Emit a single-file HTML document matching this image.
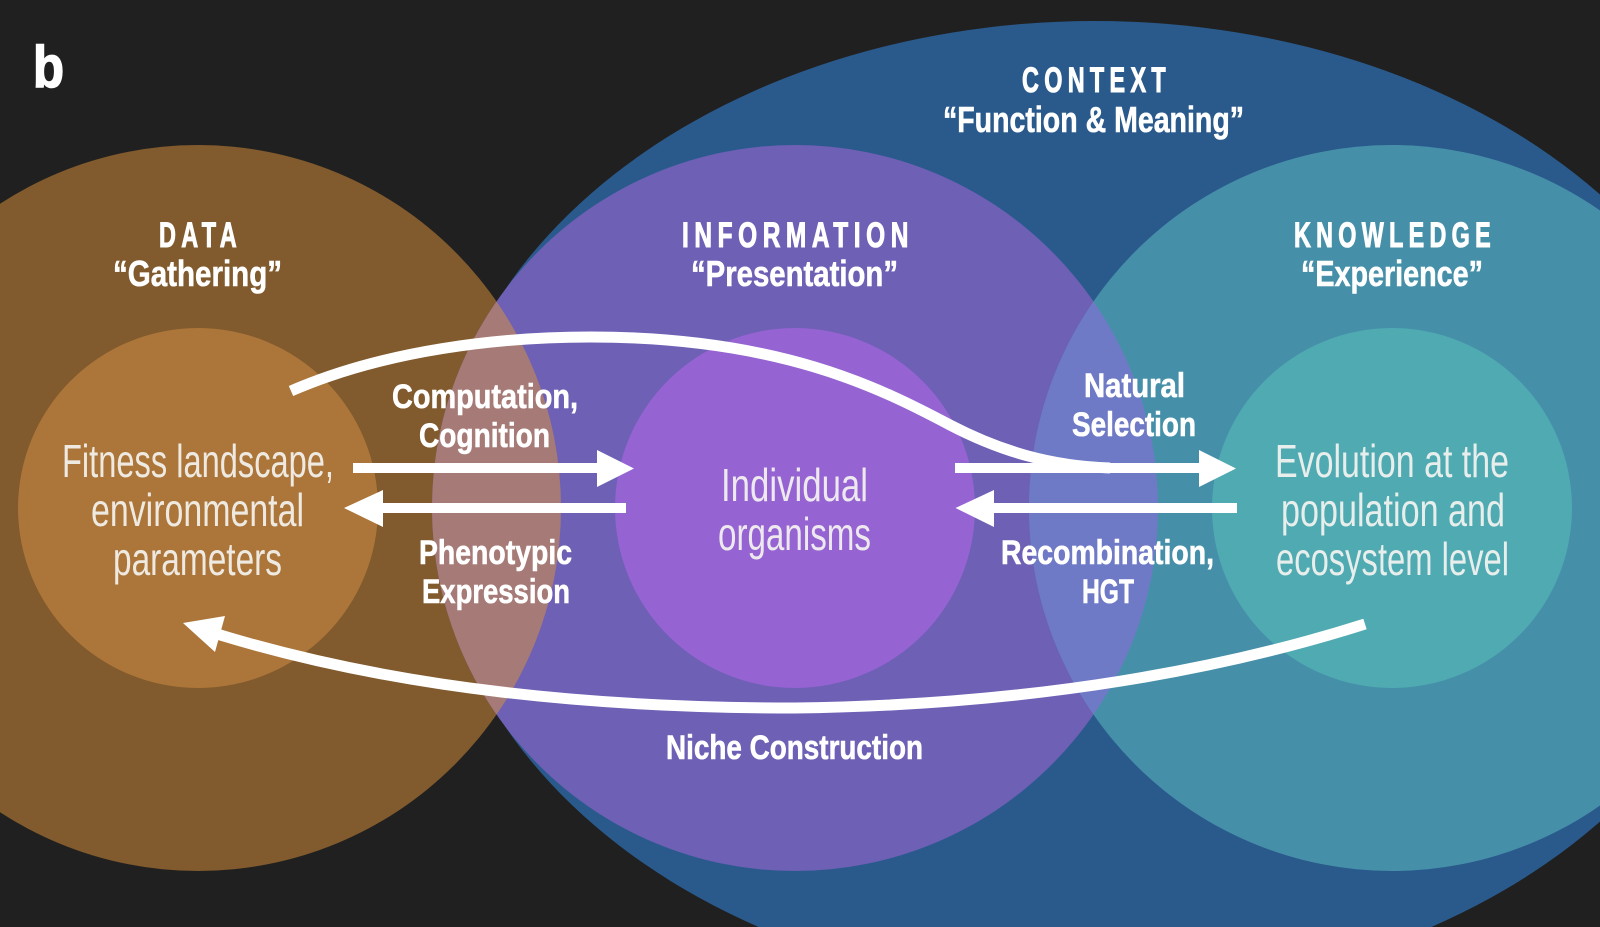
<!DOCTYPE html>
<html><head><meta charset="utf-8"><style>
html,body{margin:0;padding:0;background:#202020;width:1600px;height:927px;overflow:hidden}
svg{display:block;overflow:hidden}
text{font-family:"Liberation Sans",sans-serif;fill:#fff;text-anchor:start}
.b{font-weight:700;stroke:#fff;stroke-width:1.6px}
.h{font-size:35px;font-weight:700;letter-spacing:8px;stroke:#fff;stroke-width:1.1px}
.q{font-size:36px;font-weight:700;stroke:#fff;stroke-width:.6px}
.l{font-size:34px;font-weight:700;stroke:#fff;stroke-width:.6px}
.t{font-size:46px;fill:#f4f4f0;fill-opacity:.92}
</style></head><body>
<svg width="1600" height="927" viewBox="0 0 1600 927" xmlns="http://www.w3.org/2000/svg">
<defs>
<clipPath id="ci"><circle cx="795" cy="508" r="363"/></clipPath>
</defs>
<rect width="1600" height="927" fill="#202020"/>
<path d="M758.6,927 A660,487 0 1 1 1431.4,927 Z" fill="#2a5a8c"/>
<circle cx="198" cy="508" r="363" fill="#815a2d"/>
<circle cx="795" cy="508" r="363" fill="#6d60b5"/>
<circle cx="1392" cy="508" r="363" fill="#4590a8"/>
<g clip-path="url(#ci)">
<circle cx="198" cy="508" r="363" fill="#a67a76"/>
<circle cx="1392" cy="508" r="363" fill="#6f7ac6"/>
</g>
<circle cx="198" cy="508" r="180" fill="#ac763a"/>
<circle cx="795" cy="508" r="180" fill="#9663d2"/>
<circle cx="1392" cy="508" r="180" fill="#4faab2"/>

<g fill="none" stroke="#fff" stroke-width="11">
<path d="M291,391 C385,350 500,337 590,337 C780,337 880,388 950,425 C1000,451 1050,466 1110,468"/>
<path d="M1365,624 C1230,667 1040,705 795,708 C600,708 400,690 217,634"/>
</g>
<g fill="#fff">
<rect x="353" y="463" width="246" height="10"/>
<polygon points="597,450 634,468.5 597,487"/>
<rect x="382" y="503" width="244" height="10"/>
<polygon points="383,490 344,508 383,527"/>
<rect x="955" y="463" width="246" height="10"/>
<polygon points="1199,450 1236,468.5 1199,487"/>
<rect x="993" y="503" width="244" height="10"/>
<polygon points="994,490 955.5,508 994,527"/>
<polygon points="183,623 225,616 215,652"/>
</g>

<text class="b" x="33" y="87" font-size="58" textLength="31" lengthAdjust="spacingAndGlyphs">b</text>

<text class="h" x="159" y="247" textLength="83" lengthAdjust="spacingAndGlyphs">DATA</text>
<text class="q" x="113" y="286" textLength="169" lengthAdjust="spacingAndGlyphs">“Gathering”</text>
<text class="h" x="682" y="247" textLength="232" lengthAdjust="spacingAndGlyphs">INFORMATION</text>
<text class="q" x="691" y="286" textLength="207" lengthAdjust="spacingAndGlyphs">“Presentation”</text>
<text class="h" x="1294" y="247" textLength="202" lengthAdjust="spacingAndGlyphs">KNOWLEDGE</text>
<text class="q" x="1301" y="286" textLength="182" lengthAdjust="spacingAndGlyphs">“Experience”</text>
<text class="h" x="1022" y="92" textLength="149" lengthAdjust="spacingAndGlyphs">CONTEXT</text>
<text class="q" x="943" y="132" textLength="301" lengthAdjust="spacingAndGlyphs">“Function &amp; Meaning”</text>

<text class="l" x="392" y="408" textLength="186" lengthAdjust="spacingAndGlyphs">Computation,</text>
<text class="l" x="419" y="447" textLength="131" lengthAdjust="spacingAndGlyphs">Cognition</text>
<text class="l" x="419" y="564" textLength="153" lengthAdjust="spacingAndGlyphs">Phenotypic</text>
<text class="l" x="422" y="603" textLength="148" lengthAdjust="spacingAndGlyphs">Expression</text>
<text class="l" x="666" y="759" textLength="257" lengthAdjust="spacingAndGlyphs">Niche Construction</text>
<text class="l" x="1084" y="397" textLength="101" lengthAdjust="spacingAndGlyphs">Natural</text>
<text class="l" x="1072" y="436" textLength="124" lengthAdjust="spacingAndGlyphs">Selection</text>
<text class="l" x="1001" y="564" textLength="213" lengthAdjust="spacingAndGlyphs">Recombination,</text>
<text class="l" x="1082" y="603" textLength="52" lengthAdjust="spacingAndGlyphs">HGT</text>

<text class="t" x="62" y="477" textLength="272" lengthAdjust="spacingAndGlyphs">Fitness landscape,</text>
<text class="t" x="91" y="526" textLength="213" lengthAdjust="spacingAndGlyphs">environmental</text>
<text class="t" x="113" y="575" textLength="169" lengthAdjust="spacingAndGlyphs">parameters</text>
<text class="t" x="721" y="501" textLength="147" lengthAdjust="spacingAndGlyphs">Individual</text>
<text class="t" x="718" y="550" textLength="153" lengthAdjust="spacingAndGlyphs">organisms</text>
<text class="t" x="1275" y="477" textLength="234" lengthAdjust="spacingAndGlyphs">Evolution at the</text>
<text class="t" x="1281" y="526" textLength="224" lengthAdjust="spacingAndGlyphs">population and</text>
<text class="t" x="1276" y="575" textLength="233" lengthAdjust="spacingAndGlyphs">ecosystem level</text>
</svg>
</body></html>
